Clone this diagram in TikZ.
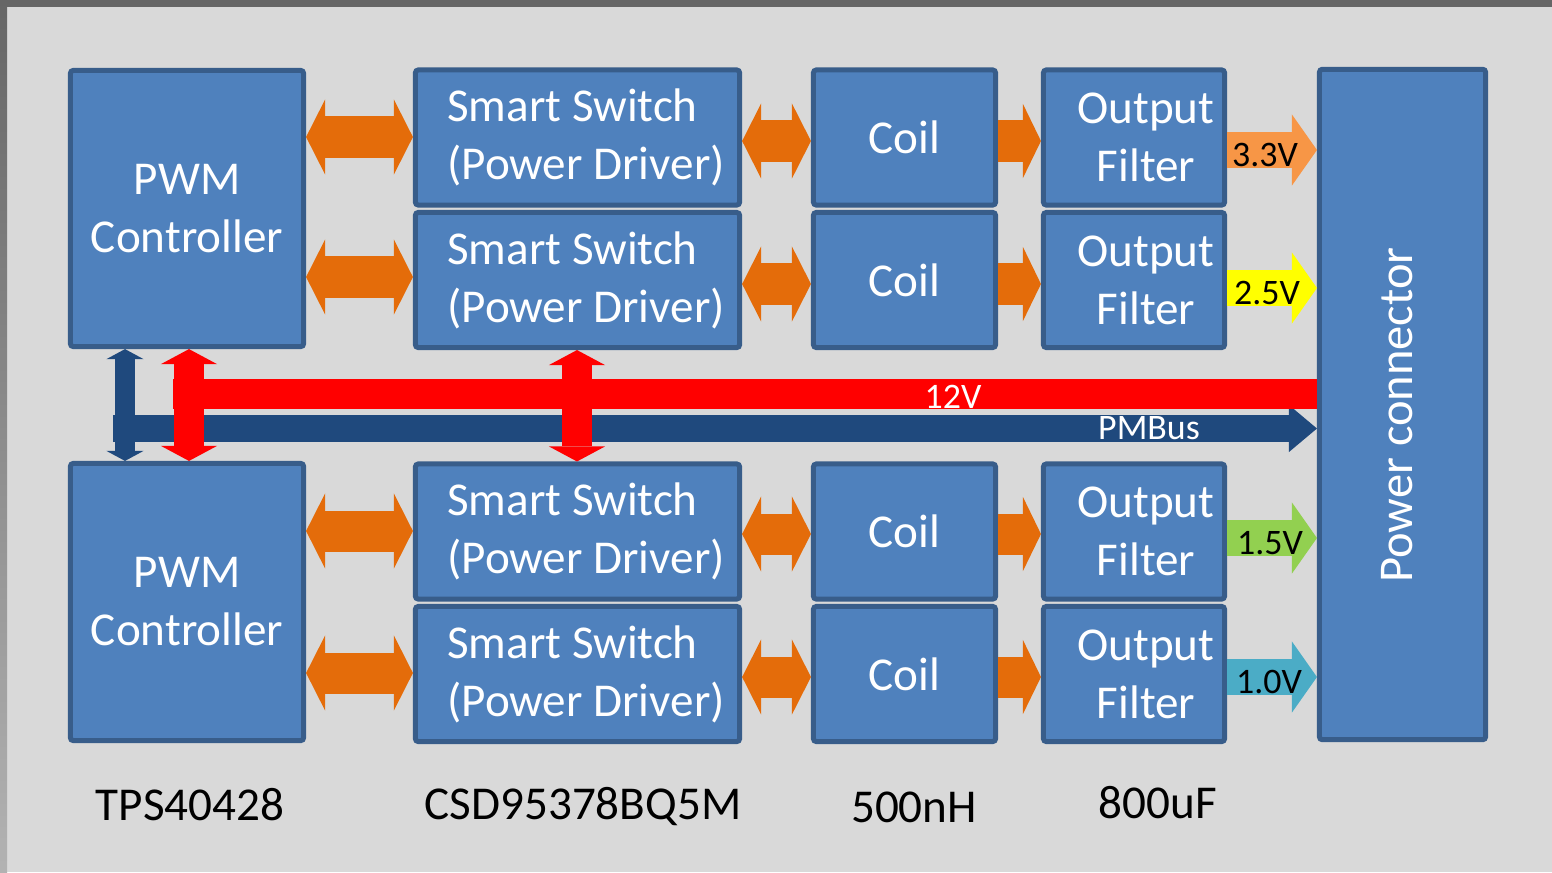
\documentclass[tikz,border=0pt]{standalone}
\usepackage{fontspec}
\setmainfont{Carlito}
\usetikzlibrary{arrows.meta}
\definecolor{bg}{HTML}{D9D9D9}
\definecolor{frame}{HTML}{666666}
\definecolor{blkfill}{HTML}{4F81BD}
\definecolor{blkline}{HTML}{385D8A}
\definecolor{sigorange}{HTML}{E46C0A}
\definecolor{vthree}{HTML}{F79646}
\definecolor{vtwo}{HTML}{FFFF00}
\definecolor{vone}{HTML}{92D050}
\definecolor{vzero}{HTML}{4BACC6}
\definecolor{busblue}{HTML}{1F497D}
\begin{document}
\begin{tikzpicture}[x=0.01cm, y=-0.01cm,
	blk/.style={draw=blkline, fill=blkfill, line width=0.05cm, rounded corners=0.8pt,
		inner sep=0pt, text=white, align=center, font=\fontsize{13.4}{16.5}\selectfont},
	txt/.style={text=white, inner sep=0pt, font=\fontsize{13.4}{16.5}\selectfont},
	lbl/.style={inner sep=0pt, font=\fontsize{13.4}{16}\selectfont},
	tag/.style={inner sep=0pt, font=\fontsize{10.2}{12}\selectfont},
	swarrow/.style={sigorange, line width=0.41cm,
		>={Triangle[length=0.19cm,width=0.75cm,line width=0pt]}, <->},
	fwdarrow/.style={sigorange, line width=0.41cm,
		>={Triangle[length=0.18cm,width=0.74cm,line width=0pt]}, ->},
	varrow/.style={line width=0.36cm,
		>={Triangle[length=0.25cm,width=0.71cm,line width=0pt]}, ->},
	pmbus/.style={busblue, line width=0.27cm,
		>={Triangle[length=0.28cm,width=0.47cm,line width=0pt]}, ->},
	vbus/.style={busblue, line width=0.20cm,
		>={Triangle[length=0.10cm,width=0.37cm,line width=0pt]}, <->},
	redbus/.style={red, line width=0.30cm},
	vred/.style={red, line width=0.30cm,
		>={Triangle[length=0.15cm,width=0.56cm,line width=0pt]}, <->}]
	\useasboundingbox (0,0) rectangle (1552,872);
	% background and frame
	\fill[bg] (0,0) rectangle (1552,872);
	\fill[frame] (0,0) rectangle (1552,7);
	\shade[top color=frame, bottom color=frame!50!white] (0,0) rectangle (7,872);
	% controllers
	\node[blk, minimum width=2.33cm, minimum height=2.76cm] (pwmA) at (187,208.5) {PWM\\Controller};
	\node[blk, minimum width=2.33cm, minimum height=2.77cm] (pwmB) at (187,602) {PWM\\Controller};
	% power stages
	\foreach \n/\yc in {A/137.5, B/280, C/531.5, D/674}{
		\node[blk, minimum width=3.24cm, minimum height=1.35cm] (ss\n) at (577.5,\yc) {};
		\node[txt, align=left] (sst\n) at ([xshift=0.085cm]ss\n.center) {Smart Switch\\(Power Driver)};
		\node[blk, minimum width=1.82cm, minimum height=1.35cm] (coil\n) at (904.5,\yc) {Coil};
		\node[blk, minimum width=1.81cm, minimum height=1.35cm] (flt\n) at (1134,\yc) {};
		\node[txt, align=center] (fltt\n) at ([xshift=0.12cm]flt\n.center) {Output\\Filter};
	}
	\node[blk, minimum width=1.66cm, minimum height=6.70cm] (pwr) at (1402.5,404.5) {};
	\node[txt, rotate=90, font=\fontsize{13.8}{16}\selectfont] (pwrt) at (1397,415) {Power connector};
	% controller <-> switch
	\foreach \p/\s/\yc in {pwmA/ssA/137, pwmA/ssB/277, pwmB/ssC/531, pwmB/ssD/673}
		\draw[swarrow] (\p.east |- 0,\yc) -- (\s.west |- 0,\yc);
	% switch <-> coil -> filter
	\foreach \n/\yc in {A/141, B/284, C/534, D/677}{
		\draw[swarrow] (ss\n.east |- 0,\yc) -- (coil\n.west |- 0,\yc);
		\draw[fwdarrow] (coil\n.east |- 0,\yc) -- (flt\n.west |- 0,\yc);
	}
	% output rails
	\foreach \n/\yc/\c/\lx/\v in {A/150/vthree/1265/3.3V, B/288/vtwo/1267/2.5V,
		C/538/vone/1270/1.5V, D/677/vzero/1269/1.0V}{
		\draw[varrow, \c] (flt\n.east |- 0,\yc) -- (pwr.west |- 0,\yc);
		\node[tag] (v\n) at (\lx,\yc+5) {\v};
	}
	% buses
	\coordinate (pmL) at (113,428.5);
	\coordinate (busL) at (173,394);
	\draw[pmbus] (pmL) -- (pwr.west |- 0,428.5);
	\draw[vbus] (pwmA.south -| 125,0) -- (pwmB.north -| 125,0);
	\draw[redbus] (busL) -- (pwr.west |- 0,394);
	\draw[vred] (pwmA.south -| 189,0) -- (pwmB.north -| 189,0);
	\draw[vred] (ssB.south -| 577,0) -- (ssC.north -| 577,0);
	\node[tag, text=white] (v12) at (953,397) {12V};
	\node[tag, text=white] (pmb) at (1149,428) {PMBus};
	% part numbers
	\node[lbl] (tps) at (190,805) {TPS40428};
	\node[lbl] (csd) at (583,807) {CSD95378BQ5M};
	\node[lbl] (ind) at (914,807) {500nH};
	\node[lbl] (cap) at (1158,803) {800uF};
\end{tikzpicture}
\end{document}
